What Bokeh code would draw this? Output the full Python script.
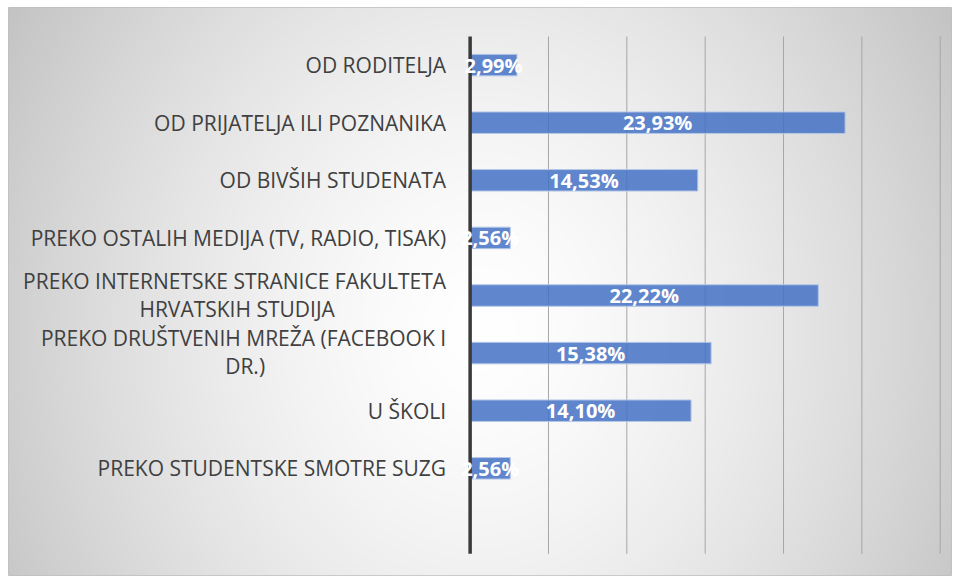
import numpy as np
from bokeh.plotting import figure
from bokeh.models import ColumnDataSource, Range1d
from bokeh.core.properties import value
from bokeh.embed import file_html
from bokeh.resources import INLINE

# ---- data ----
categories = [
    "OD RODITELJA",
    "OD PRIJATELJA ILI POZNANIKA",
    "OD BIVŠIH STUDENATA",
    "PREKO OSTALIH MEDIJA (TV, RADIO, TISAK)",
    "PREKO INTERNETSKE STRANICE FAKULTETA HRVATSKIH STUDIJA",
    "PREKO DRUŠTVENIH MREŽA (FACEBOOK I DR.)",
    "U ŠKOLI",
    "PREKO STUDENTSKE SMOTRE SUZG",
]
label_first = [
    "OD RODITELJA",
    "OD PRIJATELJA ILI POZNANIKA",
    "OD BIVŠIH STUDENATA",
    "PREKO OSTALIH MEDIJA (TV, RADIO, TISAK)",
    "PREKO INTERNETSKE STRANICE FAKULTETA",
    "PREKO DRUŠTVENIH MREŽA (FACEBOOK I",
    "U ŠKOLI",
    "PREKO STUDENTSKE SMOTRE SUZG",
]
label_second = ["", "", "", "", "HRVATSKIH STUDIJA", "DR.)", "", ""]
values = [2.99, 23.93, 14.53, 2.56, 22.22, 15.38, 14.10, 2.56]
grid_ticks = [5, 10, 15, 20, 25, 30]

# ---- layout constants ----
X0, X1 = -29.46, 30.72
Y0, Y1 = -1.861, 8.0
GRID_BOTTOM, GRID_TOP = -1.484, 7.497
W, H = 959, 579
ML, MR, MT, MB = 8, 8, 7, 4

n = len(categories)
ys = [n - 1 - i for i in range(n)]

p = figure(width=W, height=H, x_range=Range1d(X0, X1), y_range=Range1d(Y0, Y1),
           output_backend="svg", toolbar_location=None,
           x_axis_location=None, y_axis_location=None,
           min_border_left=ML, min_border_right=MR, min_border_top=MT, min_border_bottom=MB)
p.xgrid.visible = False
p.ygrid.visible = False
p.border_fill_color = "white"
p.outline_line_color = "#bfbfbf"
p.outline_line_width = 1

# ---- background gradient (style only) ----
FW, FH = W - ML - MR, H - MT - MB
NX, NY = 472, 284
sx = ML + (np.arange(NX) + 0.5) * FW / NX
sy = (H - MB) - (np.arange(NY) + 0.5) * FH / NY
SX, SY = np.meshgrid(sx, sy)
t = np.sqrt(((SX - 480) / 520) ** 2 + ((SY - 330) / 600) ** 2)
g = np.clip(255 - 55 * t ** 1.5, 185, 255).astype(np.uint32)
img = (255 << 24) | (g << 16) | (g << 8) | g
p.image_rgba(image=[img.astype(np.uint32)], x=X0, y=Y0, dw=X1 - X0, dh=Y1 - Y0)

# ---- gridlines ----
p.segment(x0=grid_ticks, y0=GRID_BOTTOM, x1=grid_ticks, y1=GRID_TOP,
          line_color="#a6a6a6", line_width=1)

# ---- bars ----
src = ColumnDataSource(dict(
    y=ys, v=values, mid=[v / 2 for v in values],
    lab=[f"{v:.2f}".replace(".", ",") + "%" for v in values],
))
p.hbar(y="y", left=0, right="v", height=0.373, source=src,
       fill_color="#4472C4", fill_alpha=0.85, line_color="#b4c7e7", line_width=1)

# ---- axis line ----
p.segment(x0=[0], y0=GRID_BOTTOM, x1=[0], y1=GRID_TOP, line_color="#3a3a3a", line_width=3.5)

# ---- value labels ----
p.text(x="mid", y="y", text="lab", source=src, text_font=value("Open Sans"),
       text_font_size="20px", text_font_style="bold", text_color="white",
       text_align="center", text_baseline="middle")

# ---- category labels ----
FS = "21px"
single = [i for i in range(n) if not label_second[i]]
double = [i for i in range(n) if label_second[i]]
s1 = ColumnDataSource(dict(y=[ys[i] for i in single], t=[label_first[i] for i in single]))
p.text(x=0, y="y", text="t", source=s1, x_offset=-24, text_font=value("Open Sans"),
       text_font_size=FS, text_color="#404040", text_align="right", text_baseline="middle")

s2 = ColumnDataSource(dict(y=[ys[i] for i in double], t=[label_first[i] for i in double]))
p.text(x=0, y="y", text="t", source=s2, x_offset=-24, y_offset=-15, text_font=value("Open Sans"),
       text_font_size=FS, text_color="#404040", text_align="right", text_baseline="middle")

centers = [-233, -225]
for k, i in enumerate(double):
    s3 = ColumnDataSource(dict(y=[ys[i]], t=[label_second[i]]))
    p.text(x=0, y="y", text="t", source=s3, x_offset=centers[k], y_offset=13,
           text_font=value("Open Sans"), text_font_size=FS, text_color="#404040",
           text_align="center", text_baseline="middle")

open("out.html", "w").write(file_html(p, INLINE))
